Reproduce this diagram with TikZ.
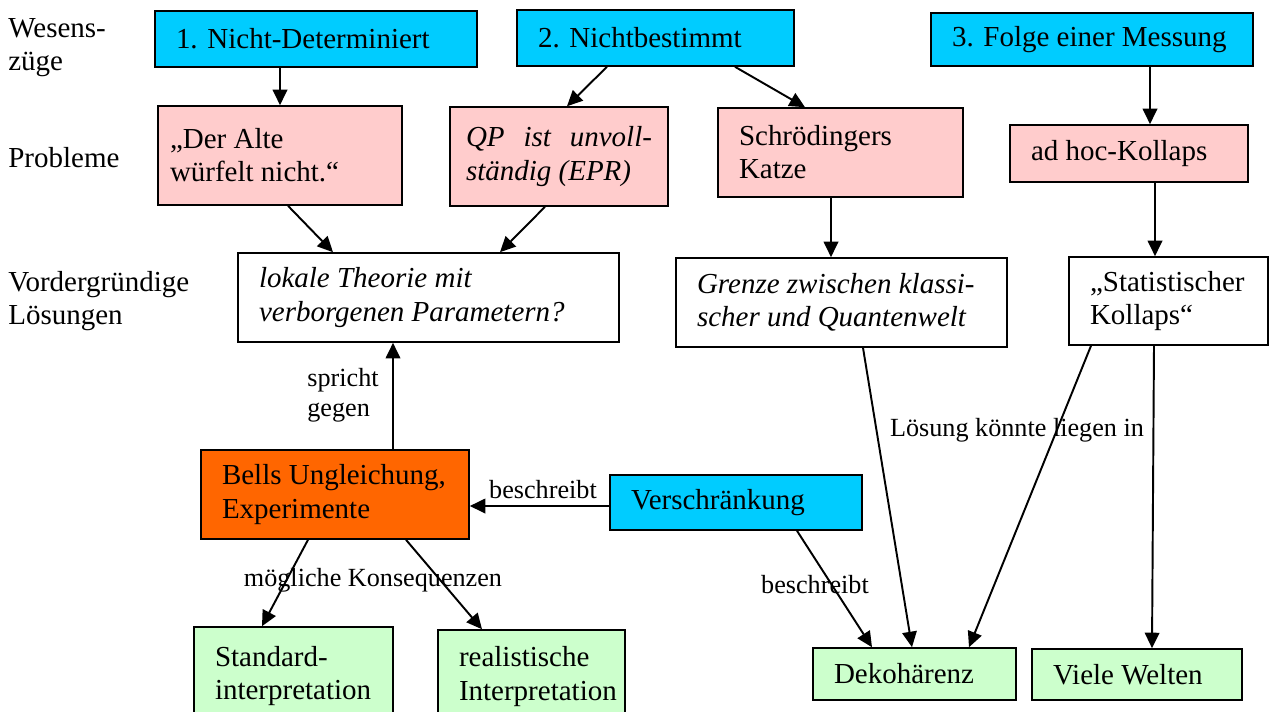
\documentclass[tikz,border=0pt]{standalone}
\usepackage{fontspec}
\setmainfont{Liberation Serif}
\usepackage{xcolor}
\usepackage{tikz}
\usetikzlibrary{positioning, arrows.meta}

\definecolor{wesenblau}{HTML}{00CCFF}
\definecolor{problemrosa}{HTML}{FFCCCC}
\definecolor{bellorange}{HTML}{FF6600}
\definecolor{deutunggruen}{HTML}{CCFFCC}

\newcommand{\boxfont}{\fontsize{16.5}{18.8}\selectfont}
\newcommand{\notefont}{\fontsize{14.9}{17}\selectfont}

\begin{document}
\begin{tikzpicture}[
  >=Triangle,
  box/.style={draw, line width=0.9pt, inner xsep=0.42cm, inner ysep=0pt, align=flush left, font=\boxfont},
  wesen/.style={box, fill=wesenblau},
  problem/.style={box, fill=problemrosa},
  loesung/.style={box, fill=white},
  bell/.style={box, fill=bellorange},
  deutung/.style={box, fill=deutunggruen},
  arrow/.style={-{Triangle[length=3.1mm, width=2.9mm]}, line width=1.1pt},
  note/.style={font=\notefont, inner sep=0pt, align=flush left},
  level/.style={font=\boxfont, inner sep=0pt, align=flush left, anchor=west},
]
\useasboundingbox (0,0) rectangle (25.42,-14.22);

% ---------- Zeilenbeschriftung links ----------
\node[level] (wesenszuege) at (0.16, -0.95) {Wesens-\\züge};
\node[level] (probleme) at (0.16, -3.16) {Probleme};
\node[level] (vordergr) at (0.16, -6.02) {Vordergründige\\Lösungen};

% ---------- Wesenszüge ----------
\node[wesen, text width=5.60cm, minimum height=1.12cm] (nichtdet) at (6.32, -0.78) {1. Nicht-Determiniert};
\node[wesen, text width=4.70cm, minimum height=1.12cm] (nichtbest) at (13.11, -0.76) {2. Nichtbestimmt};
\node[wesen, text width=5.60cm, minimum height=1.06cm] (messung) at (21.84, -0.79) {3. Folge einer Messung};

% ---------- Probleme ----------
\node[problem, inner xsep=0.24cm, text width=4.40cm, minimum height=1.98cm] (alte) at (5.60, -3.11) {„Der Alte\\würfelt nicht.“};
\node[problem, inner xsep=0.24cm, text width=3.72cm, minimum width=4.36cm, minimum height=1.98cm, font=\boxfont\itshape] (epr) at (11.18, -3.13) {QP\hfill ist\hfill unvoll-\\ständig (EPR)};
\node[problem, text width=4.06cm, minimum height=1.78cm] (katze) at (16.81, -3.05) {Schrödingers\\Katze};
\node[problem, text width=3.92cm, minimum height=1.14cm] (adhoc) at (22.58, -3.07) {ad hoc-Kollaps};

% ---------- Vordergründige Lösungen ----------
\node[loesung, text width=6.78cm, minimum height=1.78cm, font=\boxfont\itshape] (lokal) at (8.57, -5.95) {lokale Theorie mit\\verborgenen Parametern?};
\node[loesung, text width=5.78cm, minimum height=1.78cm, font=\boxfont\itshape] (grenze) at (16.83, -6.05) {Grenze zwischen klassi-\\scher und Quantenwelt};
\node[loesung, text width=3.14cm, minimum height=1.76cm] (statkoll) at (23.37, -6.02) {„Statistischer\\Kollaps“};

% ---------- Bell / Verschränkung ----------
\node[bell, text width=4.52cm, minimum height=1.78cm] (bells) at (6.70, -9.89) {Bells Ungleichung,\\Experimente};
\node[wesen, text width=4.20cm, minimum height=1.10cm] (verschr) at (14.72, -10.05) {Verschränkung};

% ---------- Deutungen ----------
\node[deutung, text width=3.14cm, minimum height=1.96cm] (standard) at (5.87, -13.52) {Standard-\\interpretation};
\node[deutung, text width=2.90cm, minimum height=1.86cm] (realist) at (10.63, -13.53) {realistische\\Interpretation};
\node[deutung, text width=3.22cm, minimum height=1.04cm] (dekoh) at (18.29, -13.48) {Dekohärenz};
\node[deutung, text width=3.36cm, minimum height=1.02cm] (viele) at (22.74, -13.49) {Viele Welten};

% ---------- Beschriftungen an Pfeilen ----------
\node[note, anchor=west] (spricht) at (6.14, -7.90) {spricht\\gegen};
\node[note] (beschr1) at (10.86, -9.80) {beschreibt};
\node[note] (konseq) at (7.46, -11.60) {mögliche Konsequenzen};
\node[note] (liegen) at (20.34, -8.60) {Lösung könnte liegen in};
\node[note] (beschr2) at (16.30, -11.70) {beschreibt};

% ---------- Pfeile ----------
\draw[arrow] (nichtdet.south -| alte.north) -- (alte.north);
\draw[arrow] ([xshift=-0.97cm]nichtbest.south) -- ([xshift=0.16cm]epr.north);
\draw[arrow] ([xshift=1.59cm]nichtbest.south) -- ([xshift=-0.71cm]katze.north);
\draw[arrow] ([xshift=1.16cm]messung.south) -- ([xshift=0.42cm]adhoc.north);
\draw[arrow] ([xshift=0.16cm]alte.south) -- ([xshift=-1.91cm]lokal.north);
\draw[arrow] ([xshift=-0.28cm]epr.south) -- ([xshift=1.43cm]lokal.north);
\draw[arrow] ([xshift=-0.19cm]katze.south) -- ([xshift=-0.21cm]grenze.north);
\draw[arrow] ([xshift=0.52cm]adhoc.south) -- ([xshift=-0.27cm]statkoll.north);
\draw[arrow] ([xshift=1.16cm]bells.north) -- ([xshift=-0.71cm]lokal.south);
\draw[arrow] ([yshift=-0.07cm]verschr.west) -- ([yshift=-0.07cm]verschr.west -| bells.east);
\draw[arrow] ([xshift=-0.54cm]bells.south) -- ([xshift=-0.63cm]standard.north);
\draw[arrow] ([xshift=1.42cm]bells.south) -- ([xshift=-0.99cm]realist.north);
\draw[arrow] ([xshift=1.22cm]verschr.south) -- ([xshift=-0.85cm]dekoh.north);
\draw[arrow] ([xshift=0.43cm]grenze.south) -- ([xshift=-0.05cm]dekoh.north);
\draw[arrow] ([xshift=-1.55cm]statkoll.south) -- ([xshift=1.09cm]dekoh.north);
\draw[arrow] ([xshift=-0.29cm]statkoll.south) -- ([xshift=0.30cm]viele.north);

\end{tikzpicture}
\end{document}
